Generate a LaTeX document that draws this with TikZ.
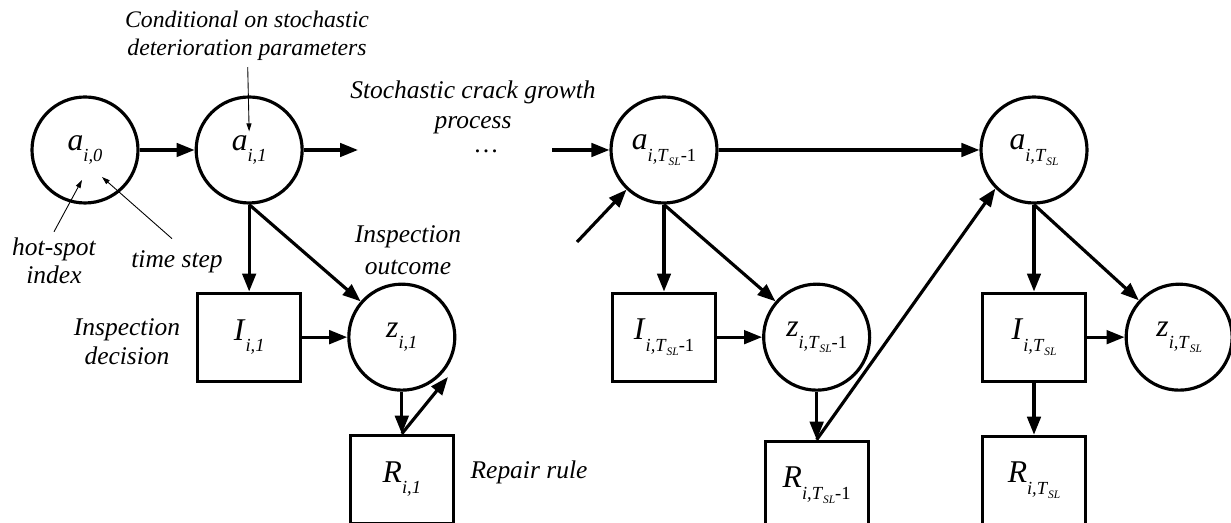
\documentclass[tikz,border=0pt]{standalone}
\usepackage{fontspec}
\setmainfont{Liberation Serif}
\usepackage{tikz}
\usetikzlibrary{arrows.meta, positioning}

% node labels: letter with a lowered subscript
\newcommand{\nodevar}[3][6pt]{{\fontsize{18}{20}\selectfont\textit{#2}}\raisebox{-#1}{\fontsize{10.5}{12}\selectfont #3}}
\newcommand{\tsl}{\textit{T}\raisebox{-2.5pt}{\fontsize{6.5}{7}\selectfont\textit{SL}}}

\begin{document}
\begin{tikzpicture}[
    chance/.style={circle, draw, line width=1.8pt, minimum size=2.12cm, inner sep=0pt},
    decision/.style={rectangle, draw, line width=1.8pt, minimum width=2.06cm,
                     minimum height=1.76cm, inner sep=0pt},
    link/.style={line width=1.8pt, -{Triangle[length=0.36cm, width=0.27cm]}},
    pointer/.style={line width=0.5pt, -{Triangle[length=0.16cm, width=0.1cm]}},
    note/.style={font=\fontsize{14.5}{18}\selectfont\itshape, align=center}
]
    \useasboundingbox (0,0) rectangle (24.62,10.46);

    % first time steps
    \node[chance] (a0) at (1.70,7.46) {\nodevar{a}{\textit{i,0}}};
    \node[chance, right=1.1cm of a0] (a1) {\nodevar{a}{\textit{i,1}}};
    \node[decision, below=1.74cm of a1] (I1) {\nodevar{I}{\textit{i,1}}};
    \node[chance, right=0.9cm of I1] (z1) {\nodevar{z}{\textit{i,1}}};
    \node[decision, below=0.84cm of z1] (R1) {\nodevar{R}{\textit{i,1}}};

    % second to last time step
    \node[chance] (aT1) at (13.28,7.46) {\nodevar[7pt]{a}{\textit{i,}\tsl-1}};
    \node[decision, below=1.74cm of aT1] (IT1) {\nodevar[7pt]{I}{\textit{i,}\tsl-1}};
    \node[chance, right=0.9cm of IT1] (zT1) {\nodevar[7pt]{z}{\textit{i,}\tsl-1}};
    \node[decision, below=0.96cm of zT1] (RT1) {\nodevar[7pt]{R}{\textit{i,}\tsl-1}};

    % last time step
    \node[chance] (aT) at (20.68,7.46) {\nodevar[7pt]{a}{\textit{i,}\tsl}};
    \node[decision, below=1.74cm of aT] (IT) {\nodevar[7pt]{I}{\textit{i,}\tsl}};
    \node[chance, right=0.75cm of IT] (zT) {\nodevar[7pt]{z}{\textit{i,}\tsl}};
    \node[decision, below=1.04cm of IT] (RT) {\nodevar[7pt]{R}{\textit{i,}\tsl}};

    % free ends
    \coordinate (a1out) at (7.16,7.46);
    \coordinate (aT1in) at (11.04,7.46);
    \coordinate (R1out) at (8.96,2.92);
    \coordinate (aT1low) at (11.54,5.62);

    % annotations
    \node[note, font=\fontsize{13.5}{16}\selectfont\itshape] (cond) at (4.94,9.74)
        {Conditional on stochastic\\deterioration parameters};
    \node[note, font=\fontsize{14.5}{17}\selectfont\itshape] (stoch) at (9.46,8.32)
        {Stochastic crack growth\\process};
    \node[font=\fontsize{14.5}{17}\selectfont, inner sep=1pt] (dots) at (9.72,7.44) {\dots};
    \node[note, font=\fontsize{14.5}{16}\selectfont\itshape] (hotspot) at (1.08,5.24) {hot-spot\\index};
    \node[note] (tstep) at (3.54,5.22) {time step};
    \node[note, font=\fontsize{14.5}{16.5}\selectfont\itshape] (inspdec) at (2.54,3.62) {Inspection\\decision};
    \node[note] (inspout) at (8.16,5.46) {Inspection\\outcome};
    \node[note] (repair) at (10.58,1.02) {Repair rule};

    % crack growth
    \draw[link] (a0) -- (a1);
    \draw[link] (a1) -- (a1out);
    \draw[link] (aT1in) -- (aT1);
    \draw[link] (aT1) -- (aT);
    \draw[link] (aT1low) -- (aT1);

    % inspection and repair
    \draw[link] (a1.south) -- (I1);
    \draw[link] (a1.south) -- (z1);
    \draw[link] (I1) -- (z1);
    \draw[link] (z1) -- (R1);
    \draw[link] (R1.north) -- (R1out);

    \draw[link] (aT1.south) -- (IT1);
    \draw[link] (aT1.south) -- (zT1);
    \draw[link] (IT1) -- (zT1);
    \draw[link] (zT1) -- (RT1);
    \draw[link] (RT1.north) -- (aT.225);

    \draw[link] (aT.south) -- (IT);
    \draw[link] (aT.south) -- (zT);
    \draw[link] (IT) -- (zT);
    \draw[link] (IT) -- (RT);

    % pointers to labels
    \draw[pointer] (cond) -- ([yshift=-0.72cm]a1.north);
    \draw[pointer] (hotspot.north) -- ([shift={(-0.06,-0.6)}]a0.center);
    \draw[pointer] ([shift={(-0.1,0.12)}]tstep.north) -- ([shift={(0.34,-0.54)}]a0.center);
\end{tikzpicture}
\end{document}
